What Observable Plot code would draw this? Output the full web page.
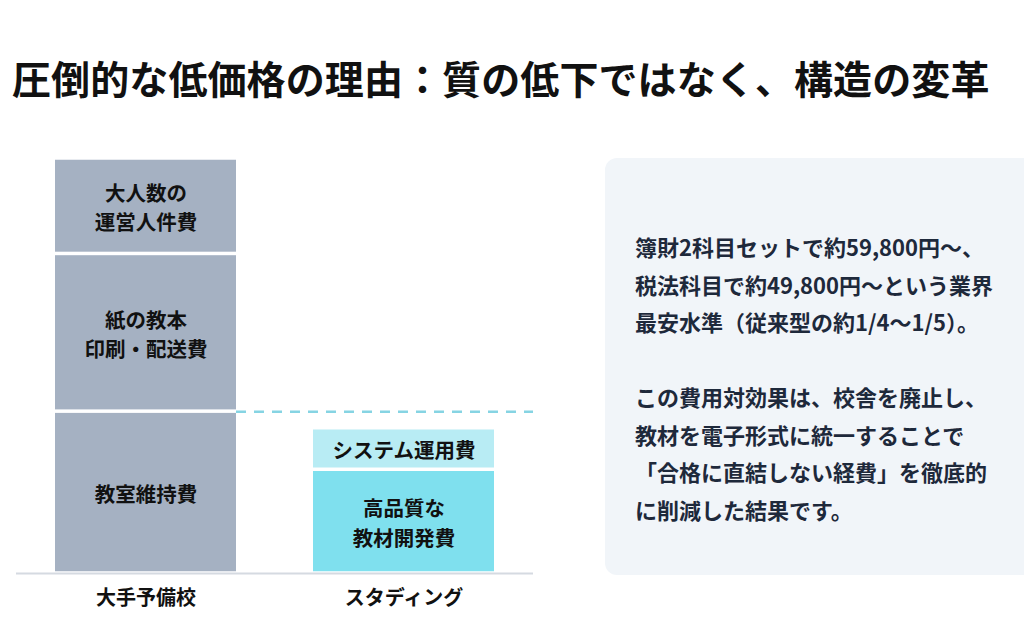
<!DOCTYPE html>
<html>
<head>
<meta charset="utf-8">
<script src="https://cdn.jsdelivr.net/npm/d3@7"></script>
<script src="https://cdn.jsdelivr.net/npm/@observablehq/plot@0.6"></script>
<style>
  html, body { margin: 0; padding: 0; background: #ffffff; }
  body { width: 1024px; height: 635px; overflow: hidden; position: relative;
         font-family: "Noto Sans CJK JP", "Noto Sans", sans-serif; }
  #title { position: absolute; left: 12px; top: 54px; font-size: 39px; line-height: 46px;
           font-weight: 700; color: #111111; white-space: nowrap; letter-spacing: 0.1px; }
  #chart { position: absolute; left: 0; top: 130px; }
  #note { position: absolute; left: 605px; top: 158px; width: 440px; height: 417px;
          background: #f1f5f9; border-radius: 12px; box-sizing: border-box;
          padding: 70px 0 0 30px; font-size: 22px; line-height: 37.5px; font-weight: 700;
          color: #1e293b; white-space: nowrap; }
</style>
</head>
<body>
<div id="title"></div>
<div id="chart"></div>
<div id="note"></div>
<script>
// ---- data ----
const titleText = "圧倒的な低価格の理由：質の低下ではなく、構造の変革";
const categories = ["大手予備校", "スタディング"];
const segSchool = ["大手予備校", "大手予備校", "大手予備校", "スタディング", "スタディング"];
const segLabel = ["教室維持費", "紙の教本\n印刷・配送費", "大人数の\n運営人件費", "高品質な\n教材開発費", "システム運用費"];
const segValue = [39, 38, 23, 25, 10];
const segColor = ["#a5b1c2", "#a5b1c2", "#a5b1c2", "#7fe0ee", "#b8ecf4"];
const referenceLevel = [39];
const noteLines = [
  "簿財2科目セットで約59,800円～、",
  "税法科目で約49,800円～という業界",
  "最安水準（従来型の約1/4～1/5）。",
  "",
  "この費用対効果は、校舎を廃止し、",
  "教材を電子形式に統一することで",
  "「合格に直結しない経費」を徹底的",
  "に削減した結果です。"
];

const segments = segSchool.map((s, i) => ({school: s, label: segLabel[i], value: segValue[i], color: segColor[i]}));

document.getElementById("title").textContent = titleText;
const note = document.getElementById("note");
noteLines.forEach(l => {
  const d = document.createElement("div");
  d.textContent = l === "" ? "\u00a0" : l;
  note.appendChild(d);
});

const plot = Plot.plot({
  width: 560,
  height: 500,
  marginLeft: 16,
  marginRight: 27,
  marginTop: 28,
  marginBottom: 57,
  style: {fontFamily: "'Noto Sans CJK JP', sans-serif", background: "transparent", color: "#111111"},
  x: {domain: categories, paddingInner: 0.298, paddingOuter: 0.15, label: null},
  y: {domain: [0, 100], axis: null},
  marks: [
    Plot.barY(segments, {
      x: "school", y: "value", fill: "color", order: null,
      insetTop: 1.75, insetBottom: 1.75
    }),
    Plot.text(segments, Plot.stackY({
      x: "school", y: "value", text: "label", order: null,
      fontSize: 20.5, fontWeight: "bold", lineHeight: 1.42, fill: "#111111"
    })),
    Plot.ruleY(referenceLevel, {
      insetLeft: 220,
      stroke: "#86d4e3", strokeWidth: 2.5, strokeDasharray: "10,8"
    }),
    Plot.ruleY([0], {stroke: "#d5dae1", strokeWidth: 2}),
    Plot.axisX({tickSize: 0, tickPadding: 17, fontSize: 20, fontWeight: "bold", fill: "#111111", label: null})
  ]
});
document.getElementById("chart").appendChild(plot);
</script>
</body>
</html>
